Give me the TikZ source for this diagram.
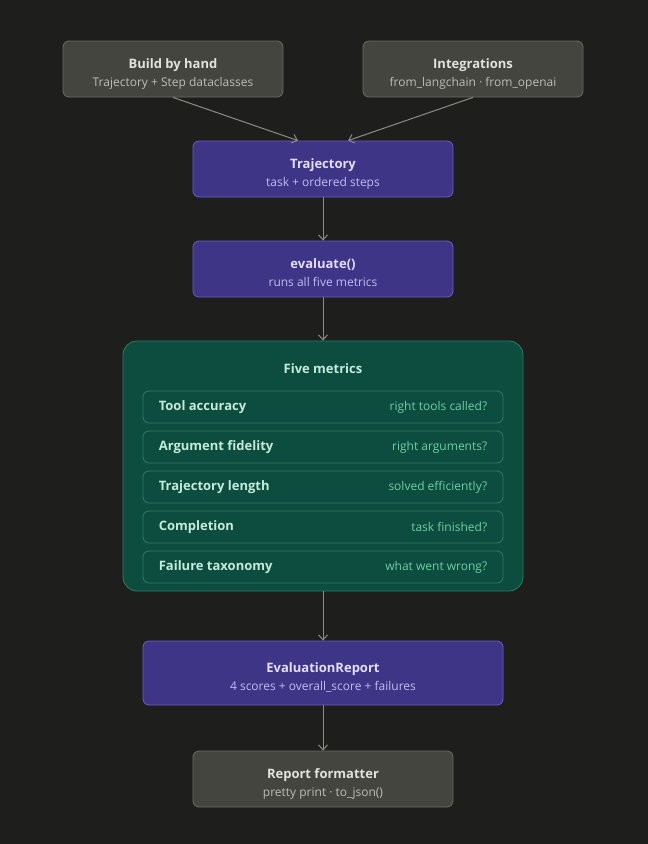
\documentclass[tikz,border=0pt]{standalone}
\usepackage{fontspec}
\setmainfont{Open Sans}
\usetikzlibrary{arrows.meta}
\definecolor{bg}{HTML}{1E1E1C}
\definecolor{greyfill}{HTML}{45453F}
\definecolor{greyline}{HTML}{6B6B65}
\definecolor{greytitle}{HTML}{E2E2DE}
\definecolor{greysub}{HTML}{BDBDB7}
\definecolor{purpfill}{HTML}{3E3587}
\definecolor{purpline}{HTML}{6A5FC2}
\definecolor{purptitle}{HTML}{E3DEFF}
\definecolor{purpsub}{HTML}{C3BBF2}
\definecolor{greenfill}{HTML}{0C4D3F}
\definecolor{greenline}{HTML}{2E7C64}
\definecolor{greentitle}{HTML}{C4EBDA}
\definecolor{greensub}{HTML}{6FCFA2}
\definecolor{arrowgrey}{HTML}{8C8C87}
\newcommand{\boxtext}[4]{\raisebox{-7.5pt}[0pt][0pt]{\begin{tabular}{@{}c@{}}%
  {\fontsize{13}{18}\selectfont\bfseries\color{#3}#1}\\{\color{#4}#2}\end{tabular}}}
\tikzstyle{cn}=[shape=rectangle,rounded corners=6pt,line width=0.8pt,
  minimum height=56pt,font=\fontsize{12}{18}\selectfont]
\tikzstyle{grey}=[cn,draw=greyline,fill=greyfill]
\tikzstyle{purp}=[cn,draw=purpline,fill=purpfill]
\tikzstyle{metric}=[shape=rectangle,rounded corners=6pt,line width=0.8pt,
  draw=greenline,fill=greenfill,minimum width=360pt,minimum height=32pt]
\tikzstyle{mname}=[anchor=west,font=\fontsize{13}{16}\selectfont\bfseries,text=greentitle,inner sep=0pt]
\tikzstyle{mq}=[anchor=east,font=\fontsize{12}{14}\selectfont,text=greensub,inner sep=0pt]
\tikzstyle{to}=[-{Straight Barb[length=5pt,width=9pt]},arrowgrey,line width=1pt]
\begin{document}
\begin{tikzpicture}[x=1pt,y=-1pt]
  \fill[bg] (0,0) rectangle (648,844);
  \useasboundingbox (0,0) rectangle (648,844);
  % sources
  \node[grey,minimum width=220pt] (H) at (173,69)
    {\boxtext{Build by hand}{Trajectory + Step dataclasses}{greytitle}{greysub}};
  \node[grey,minimum width=220pt] (I) at (473,69)
    {\boxtext{Integrations}{from\_langchain · from\_openai}{greytitle}{greysub}};
  % pipeline
  \node[purp,minimum width=260pt] (T) at (323,169)
    {\boxtext{Trajectory}{task + ordered steps}{purptitle}{purpsub}};
  \node[purp,minimum width=260pt] (E) at (323,269)
    {\boxtext{evaluate()}{runs all five metrics}{purptitle}{purpsub}};
  \node[shape=rectangle,rounded corners=14pt,line width=0.8pt,draw=greenline,fill=greenfill,
    minimum width=400pt,minimum height=250pt] (M) at (323,466) {};
  \node[font=\fontsize{13}{16}\selectfont\bfseries,text=greentitle] (Mt) at (323,369) {Five metrics};
  % metric rows
  \foreach \y/\n/\a/\q in {407/m1/Tool accuracy/right tools called?,
                           447/m2/Argument fidelity/right arguments?,
                           487/m3/Trajectory length/solved efficiently?,
                           527/m4/Completion/task finished?,
                           567/m5/Failure taxonomy/what went wrong?}{
    \node[metric] (\n) at (323,\y) {};
    \node[mname] (\n a) at ([xshift=16pt]\n.west) {\a};
    \node[mq] (\n q) at ([xshift=-16pt]\n.east) {\q};
  }
  \node[purp,minimum width=360pt,minimum height=64pt] (R) at (323,673)
    {\boxtext{EvaluationReport}{4 scores + overall\_score + failures}{purptitle}{purpsub}};
  \node[grey,minimum width=260pt] (F) at (323,779)
    {\boxtext{Report formatter}{pretty print · to\_json()}{greytitle}{greysub}};
  % connectors
  \draw[to] (H.south) -- ([xshift=-25pt]T.north);
  \draw[to] (I.south) -- ([xshift=25pt]T.north);
  \draw[to] (T) -- (E);
  \draw[to] (E) -- (M);
  \draw[to] (M) -- (R);
  \draw[to] (R) -- (F);
\end{tikzpicture}
\end{document}
